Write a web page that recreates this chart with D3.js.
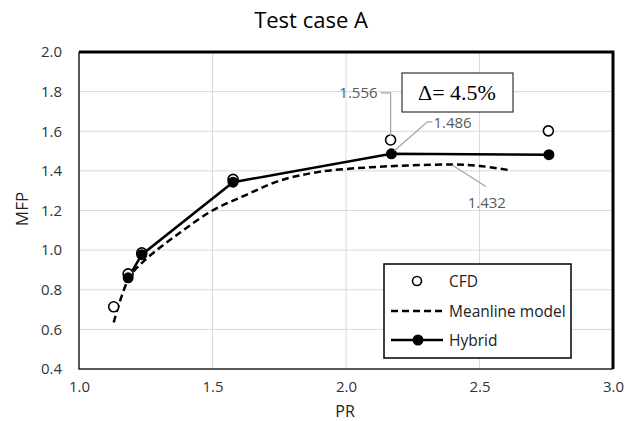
<!DOCTYPE html>
<html>
<head>
<meta charset="utf-8">
<script src="https://cdn.jsdelivr.net/npm/d3@7"></script>
<style>
  body { margin: 0; background: #fff; }
  svg { font-family: "Open Sans", sans-serif; }
</style>
</head>
<body>
<svg id="chart" width="638" height="421"></svg>
<script>
// data
const cfdPR = [1.13, 1.184, 1.235, 1.577, 2.167, 2.758];
const cfdMFP = [0.714, 0.88, 0.986, 1.357, 1.556, 1.602];

const hybridPR = [1.184, 1.235, 1.577, 2.17, 2.76];
const hybridMFP = [0.86, 0.977, 1.343, 1.486, 1.482];

const meanPR = [1.13, 1.19, 1.26, 1.375, 1.5, 1.625, 1.75, 1.9, 2.09, 2.25, 2.4, 2.5, 2.61];
const meanMFP = [0.635, 0.865, 0.965, 1.085, 1.2, 1.278, 1.35, 1.395, 1.418, 1.428, 1.432, 1.425, 1.404];

const xTicks = [1.0, 1.5, 2.0, 2.5, 3.0];
const yTicks = [0.4, 0.6, 0.8, 1.0, 1.2, 1.4, 1.6, 1.8, 2.0];

const legendNames = ["CFD", "Meanline model", "Hybrid"];
const deltaText = "\u0394= 4.5%";

let svg = d3.select("#chart");

let x = d3.scaleLinear().domain([1, 3]).range([79, 613]);
let y = d3.scaleLinear().domain([0.4, 2]).range([369, 52]);

// title
svg.append("text")
    .attr("x", 311).attr("y", 28)
    .attr("text-anchor", "middle")
    .attr("font-size", 22)
    .attr("fill", "#000")
    .text("Test case A");

// gridlines
svg.append("g").selectAll("line")
    .data(xTicks.slice(1, -1))
    .join("line")
    .attr("x1", d => x(d)).attr("x2", d => x(d))
    .attr("y1", y(0.4)).attr("y2", y(2))
    .attr("stroke", "#d9d9d9").attr("stroke-width", 1);

svg.append("g").selectAll("line")
    .data(yTicks.slice(1, -1))
    .join("line")
    .attr("x1", x(1)).attr("x2", x(3))
    .attr("y1", d => y(d)).attr("y2", d => y(d))
    .attr("stroke", "#d9d9d9").attr("stroke-width", 1);

// axes (labels only)
let xAxis = svg.append("g")
    .attr("transform", `translate(0,${y(0.4)})`)
    .call(d3.axisBottom(x).tickValues(xTicks).tickFormat(d3.format(".1f")).tickSize(0).tickPadding(12));
let yAxis = svg.append("g")
    .attr("transform", `translate(${x(1)},0)`)
    .call(d3.axisLeft(y).tickValues(yTicks).tickFormat(d3.format(".1f")).tickSize(0).tickPadding(17));
[xAxis, yAxis].forEach(a => {
    a.select(".domain").remove();
    a.attr("font-family", null).attr("font-size", null);
    a.selectAll("text").attr("font-size", 15).attr("fill", "#333");
});

svg.append("text")
    .attr("x", 345).attr("y", 417)
    .attr("text-anchor", "middle")
    .attr("font-size", 16).attr("fill", "#222")
    .text("PR");

svg.append("text")
    .attr("transform", "translate(28,209) rotate(-90)")
    .attr("text-anchor", "middle")
    .attr("font-size", 17).attr("fill", "#222")
    .text("MFP");

// plot frame
svg.append("path")
    .attr("d", `M${x(1)},${y(2)}V${y(0.4)}H${x(3)}`)
    .attr("fill", "none").attr("stroke", "#222").attr("stroke-width", 1.5);
svg.append("path")
    .attr("d", `M${x(1)},${y(2)}H${x(3)}V${y(0.4)}`)
    .attr("fill", "none").attr("stroke", "#000").attr("stroke-width", 3);

// meanline model (dashed, smoothed)
let meanData = meanPR.map((p, i) => [p, meanMFP[i]]);
svg.append("path")
    .datum(meanData)
    .attr("d", d3.line().x(d => x(d[0])).y(d => y(d[1])).curve(d3.curveCatmullRom))
    .attr("fill", "none").attr("stroke", "#000")
    .attr("stroke-width", 2.5).attr("stroke-dasharray", "7,4");

// hybrid
let hybridData = hybridPR.map((p, i) => [p, hybridMFP[i]]);
svg.append("path")
    .datum(hybridData)
    .attr("d", d3.line().x(d => x(d[0])).y(d => y(d[1])))
    .attr("fill", "none").attr("stroke", "#000").attr("stroke-width", 2.5);

// CFD open circles
let cfdData = cfdPR.map((p, i) => [p, cfdMFP[i]]);
svg.append("g").selectAll("circle")
    .data(cfdData)
    .join("circle")
    .attr("cx", d => x(d[0])).attr("cy", d => y(d[1]))
    .attr("r", 5)
    .attr("fill", "#fff").attr("stroke", "#000").attr("stroke-width", 1.6);

svg.append("g").selectAll("circle")
    .data(hybridData)
    .join("circle")
    .attr("cx", d => x(d[0])).attr("cy", d => y(d[1]))
    .attr("r", 5.5)
    .attr("fill", "#000");

// data labels with leader lines
const labelCol = "#595959";
const leadCol = "#a6a6a6";

let pC = [x(cfdPR[4]), y(cfdMFP[4])];
svg.append("path")
    .attr("d", `M${pC[0]},${pC[1] - 4}V${pC[1] - 47}H${pC[0] - 10}`)
    .attr("fill", "none").attr("stroke", leadCol).attr("stroke-width", 1.3);
svg.append("text")
    .attr("x", pC[0] - 13).attr("y", pC[1] - 47 + 5)
    .attr("text-anchor", "end").attr("font-size", 15).attr("fill", labelCol)
    .text(cfdMFP[4].toFixed(3));

let pH = [x(hybridPR[3]), y(hybridMFP[3])];
svg.append("path")
    .attr("d", `M${pH[0] + 3},${pH[1] - 3}L${pH[0] + 36},${pH[1] - 32}H${pH[0] + 41}`)
    .attr("fill", "none").attr("stroke", leadCol).attr("stroke-width", 1.3);
svg.append("text")
    .attr("x", pH[0] + 42).attr("y", pH[1] - 26)
    .attr("font-size", 15).attr("fill", labelCol)
    .text(hybridMFP[3].toFixed(3));

let pM = [x(meanPR[10]), y(meanMFP[10])];
svg.append("path")
    .attr("d", `M${pM[0]},${pM[1] + 1}L${pM[0] + 33},${pM[1] + 22}`)
    .attr("fill", "none").attr("stroke", leadCol).attr("stroke-width", 1.3);
svg.append("text")
    .attr("x", pM[0] + 34).attr("y", pM[1] + 43)
    .attr("text-anchor", "middle").attr("font-size", 15).attr("fill", labelCol)
    .text(meanMFP[10].toFixed(3));

// delta box
svg.append("rect")
    .attr("x", 402).attr("y", 73).attr("width", 111).attr("height", 39)
    .attr("fill", "#fff").attr("stroke", "#333").attr("stroke-width", 1.2);
svg.append("text")
    .attr("x", 457).attr("y", 100)
    .attr("text-anchor", "middle")
    .style("font-family", "'Liberation Serif', 'DejaVu Serif', serif")
    .attr("font-size", 22).attr("fill", "#000")
    .text(deltaText);

// legend
let lg = svg.append("g").attr("transform", "translate(384,264)");
lg.append("rect")
    .attr("width", 187).attr("height", 94)
    .attr("fill", "#fff").attr("stroke", "#000").attr("stroke-width", 1.5);
let rows = [17, 47, 76];
lg.append("circle").attr("cx", 33).attr("cy", rows[0]).attr("r", 4.5)
    .attr("fill", "#fff").attr("stroke", "#000").attr("stroke-width", 1.6);
lg.append("line").attr("x1", 7).attr("x2", 59).attr("y1", rows[1]).attr("y2", rows[1])
    .attr("stroke", "#000").attr("stroke-width", 2.5).attr("stroke-dasharray", "7,4");
lg.append("line").attr("x1", 7).attr("x2", 59).attr("y1", rows[2]).attr("y2", rows[2])
    .attr("stroke", "#000").attr("stroke-width", 2.5);
lg.append("circle").attr("cx", 34).attr("cy", rows[2]).attr("r", 5.5).attr("fill", "#000");
lg.selectAll("text.lab")
    .data(legendNames)
    .join("text")
    .attr("class", "lab")
    .attr("x", 65).attr("y", (d, i) => rows[i] + 5.5)
    .attr("font-size", 15.5).attr("fill", "#222")
    .text(d => d);
</script>
</body>
</html>
